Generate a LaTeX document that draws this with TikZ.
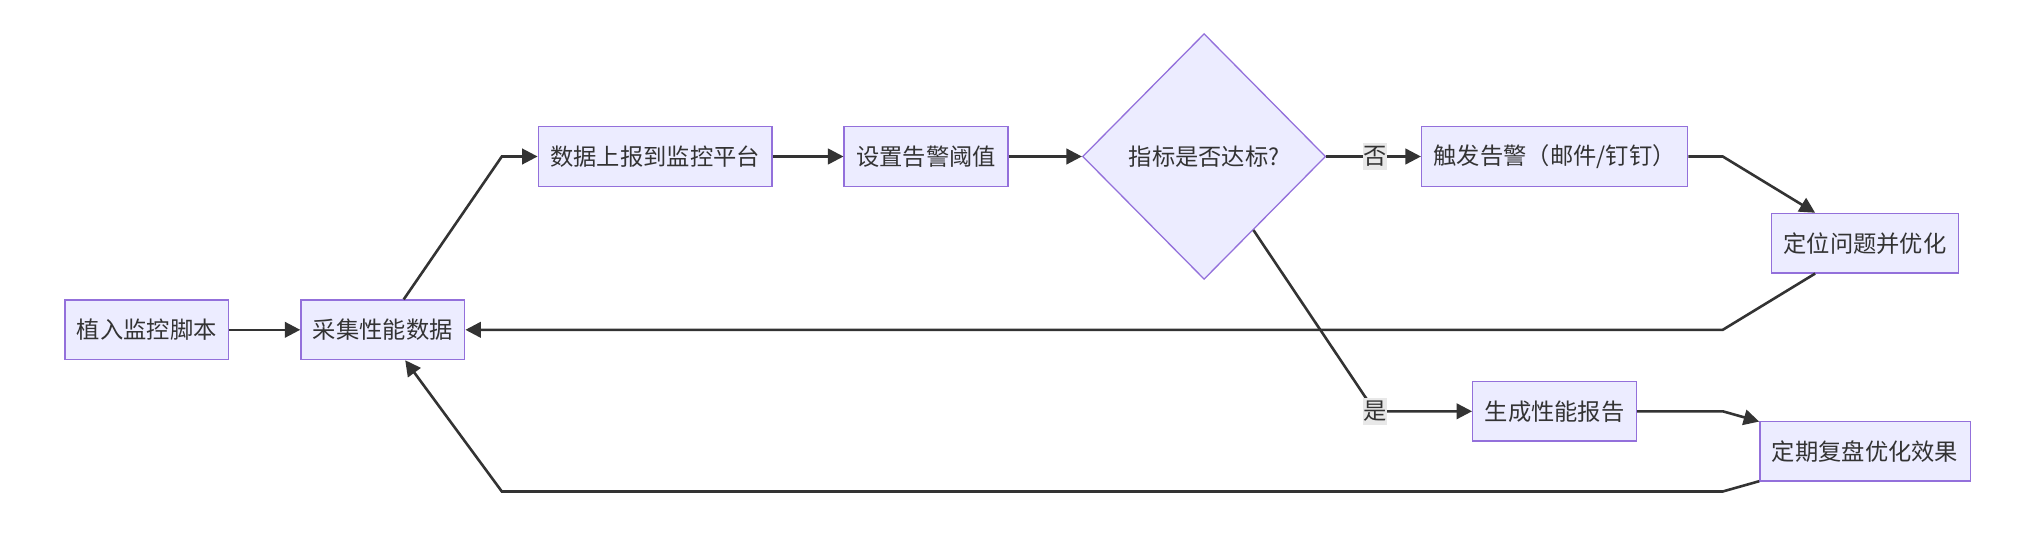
\documentclass[tikz,border=0pt]{standalone}
\usepackage{fontspec}
\setmainfont{Noto Sans CJK SC}
\usetikzlibrary{shapes.geometric, arrows.meta}
\definecolor{boxfill}{HTML}{ECECFF}
\definecolor{boxline}{HTML}{9370DB}
\definecolor{edgeline}{HTML}{333333}
\definecolor{labelbg}{HTML}{E8E8E8}
\tikzstyle{box} = [rectangle, draw=boxline, fill=boxfill, line width=0.75pt, text=edgeline, minimum height=34.5pt, inner xsep=7pt, font=\fontsize{13.5pt}{16pt}\selectfont]
\tikzstyle{decision} = [diamond, draw=boxline, fill=boxfill, line width=0.75pt, text=edgeline, minimum width=141pt, minimum height=142.5pt, inner sep=0pt, font=\fontsize{13.5pt}{16pt}\selectfont]
\tikzstyle{elabel} = [fill=labelbg, text=edgeline, inner xsep=0pt, inner ysep=2pt, font=\fontsize{13.5pt}{16pt}\selectfont]
\tikzstyle{arrow} = [line width=1.5pt, draw=edgeline, ->, >={Triangle[length=9pt,width=9pt]}]

\begin{document}
\begin{tikzpicture}[x=0.75pt,y=-0.75pt]
\useasboundingbox (0,0) rectangle (1568,423.7);

\node [box] (install) at (113.5,255) {植入监控脚本};
\node [box] (collect) at (296,255) {采集性能数据};
\node [box] (report) at (506.5,121) {数据上报到监控平台};
\node [box] (thres) at (716,121) {设置告警阈值};
\node [decision] (check) at (931,121) {指标是否达标?};
\node [box] (alarm) at (1202,121) {触发告警（邮件/钉钉）};
\node [box] (locate) at (1442,188) {定位问题并优化};
\node [box] (gen) at (1202,318) {生成性能报告};
\node [box] (review) at (1442,349) {定期复盘优化效果};

% bend points
\coordinate (c1) at (388,121);
\coordinate (no) at (1063,121);
\coordinate (yes) at (1063,318);
\coordinate (c2) at (1332,121);
\coordinate (c3) at (1332,255);
\coordinate (c4) at (1332,318);
\coordinate (c5) at (1332,380);
\coordinate (c6) at (388,380);

\draw [arrow] (install) -- (collect);
\draw [arrow] (collect) -- (c1) -- (report);
\draw [arrow] (report) -- (thres);
\draw [arrow] (thres) -- (check);
\draw [arrow] (check) -- (no) -- (alarm);
\draw [arrow] (check) -- (yes) -- (gen);
\draw [arrow] (alarm) -- (c2) -- (locate);
\draw [arrow] (locate) -- (c3) -- (collect);
\draw [arrow] (gen) -- (c4) -- (review);
\draw [arrow] (review) -- (c5) -- (c6) -- (collect);

\node [elabel] (nolabel) at (no) {否};
\node [elabel] (yeslabel) at (yes) {是};

\end{tikzpicture}
\end{document}
